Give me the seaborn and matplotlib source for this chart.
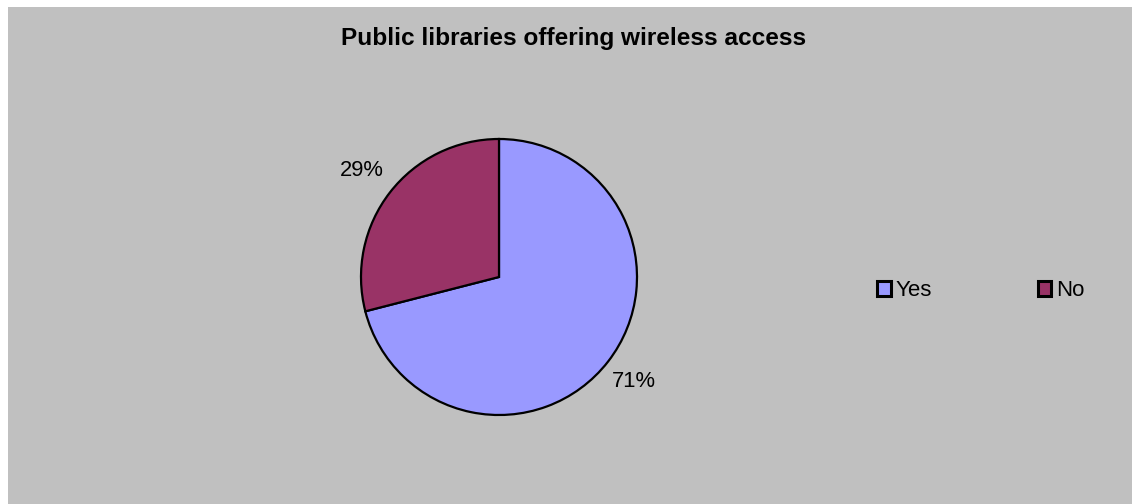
import matplotlib
matplotlib.use('Agg')
import numpy as np
import matplotlib.pyplot as plt
import seaborn as sns
from matplotlib.patches import Rectangle

categories = ['Yes', 'No']
values = [71, 29]
pct_labels = ['71%', '29%']
colors = ['#9999FF', '#993366']
title = 'Public libraries offering wireless access'

sns.set_theme(style='white')
plt.rcParams['font.family'] = ['Liberation Sans', 'DejaVu Sans']
plt.rcParams['text.color'] = 'black'

W, H = 1132, 504
fig = plt.figure(figsize=(W / 100, H / 100), dpi=100)
fig.patch.set_facecolor('white')
fig.patches.append(Rectangle((8 / W, 0), 1 - 8 / W, 1 - 7 / H, transform=fig.transFigure,
                             facecolor='#C0C0C0', edgecolor='none', zorder=-5))

cx, cy, r = 499, 277, 138
ax = fig.add_axes([(cx - r) / W, (H - cy - r) / H, 2 * r / W, 2 * r / H])
ax.set_zorder(2)
ax.set_facecolor('none')
wedges, _ = ax.pie(values, colors=colors, startangle=90, counterclock=False, radius=1,
                   wedgeprops=dict(edgecolor='black', linewidth=1.6))
ax.set_xlim(-1, 1)
ax.set_ylim(-1, 1)
ax.axis('off')

label_dist = [1.24, 1.255]
for w, lab, d in zip(wedges, pct_labels, label_dist):
    th = np.deg2rad((w.theta1 + w.theta2) / 2)
    ax.text(d * np.cos(th), d * np.sin(th), lab, ha='center', va='center', fontsize=15.8,
            color='black', clip_on=False)

fig.text(573.5 / W, 1 - 44.5 / H, title, ha='center', va='baseline', fontsize=17.6,
         fontweight='bold', color='black')

leg = fig.legend(wedges, categories, loc='center left', bbox_to_anchor=(877 / W, 1 - 291 / H),
                 ncol=2, frameon=False, fontsize=16, borderpad=0, borderaxespad=0,
                 handlelength=0.62, handleheight=0.62, handletextpad=0.22, columnspacing=4.75)
for t in leg.get_texts():
    t.set_color('black')
for h in leg.legend_handles:
    h.set_linewidth(2.2)

fig.savefig('out.png', dpi=100)
